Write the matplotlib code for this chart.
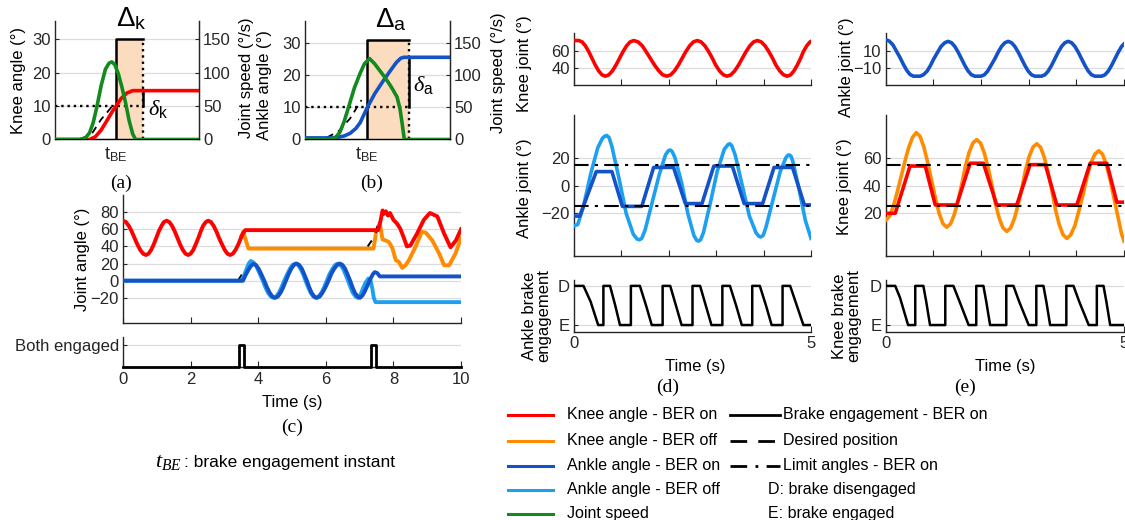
import matplotlib
matplotlib.use('Agg')
import matplotlib.pyplot as plt
import numpy as np

plt.rcParams['font.family'] = ['Liberation Sans', 'DejaVu Sans']
plt.rcParams['mathtext.fontset'] = 'custom'
plt.rcParams['mathtext.rm'] = 'Liberation Sans'
plt.rcParams['mathtext.it'] = 'Liberation Serif:italic'
plt.rcParams['mathtext.bf'] = 'Liberation Sans:bold'

# ---------------- data ----------------
# panel (a): knee brake engagement
a_tBE = 4.24
a_box_end = 6.11
a_box_top = 30
a_limit = 10
a_knee_final = 14.6
a_knee_t = [0, 2.4, 2.8, 3.2, 3.6, 4.0, 4.24, 4.6, 5.0, 5.4, 10]
a_knee_v = [0, 0, 0.8, 2.8, 5.6, 8.5, 10, 12.3, 13.9, 14.6, 14.6]
a_des_t = [1.8, 2.2, 2.6, 2.9, 3.2, 3.6, 3.96]
a_des_v = [0.3, 0.9, 2.0, 4.0, 6.0, 8.0, 9.9]
a_speed_t = [0, 1.7, 2.1, 2.4, 2.65, 2.9, 3.2, 3.5, 3.75, 3.94, 4.15, 4.4, 4.65, 4.9, 5.15, 5.4, 5.6, 10]
a_speed_v = [0, 0, 2, 10, 25, 48, 80, 105, 114, 116, 112, 98, 78, 55, 28, 8, 0, 0]

# panel (b): ankle brake engagement
b_tBE = 4.25
b_box_end = 7.17
b_box_top = 31
b_limit = 10
b_ankle_final = 25.6
b_ankle_t = [0, 1.9, 2.3, 2.7, 3.1, 3.5, 3.8, 4.05, 4.3, 4.8, 5.4, 5.9, 6.3, 6.6, 6.8, 10]
b_ankle_v = [0.5, 0.5, 0.7, 1.1, 1.9, 3.4, 5.2, 7.6, 10, 14.2, 18.3, 21.5, 24, 25.3, 25.6, 25.6]
b_des_t = [1.5, 2.3, 3.1, 3.9]
b_des_v = [0.6, 2.5, 6.5, 12.3]
b_speed_t = [0, 1.7, 2.1, 2.4, 2.7, 3.0, 3.4, 3.8, 4.1, 4.45, 4.8, 5.2, 5.5, 5.86, 6.1, 6.35, 6.55, 6.7, 6.85, 10]
b_speed_v = [0, 0, 3, 11, 28, 50, 80, 103, 118, 126, 118, 106, 97, 85, 76, 66, 48, 25, 0, 0]

# panel (c): both joints, 10 s
c_red_t = [0, 0.085, 0.17, 0.255, 0.34, 0.425, 0.51, 0.595, 0.68,
           0.756, 0.833, 0.909, 0.985, 1.06, 1.14, 1.21, 1.29,
           1.37, 1.45, 1.53, 1.61, 1.69, 1.77, 1.85, 1.93,
           2.0, 2.08, 2.15, 2.23, 2.30, 2.37, 2.45, 2.52,
           2.6, 2.68, 2.76, 2.84, 2.93, 3.01, 3.09, 3.17,
           3.25, 3.33, 3.41, 3.49, 3.56, 3.62, 7.55, 7.62, 7.68, 7.72, 7.78, 7.84,
           7.9, 8.0, 8.1, 8.2, 8.3, 8.4, 8.5, 8.7, 8.9, 9.08, 9.3, 9.5, 9.69, 9.85, 10]
c_red_v = [70, 68.5, 64.1, 57.7, 50, 42.3, 35.9, 31.5, 30,
           31.5, 35.9, 42.3, 50, 57.7, 64.1, 68.5, 70,
           68.5, 64.1, 57.7, 50, 42.3, 35.9, 31.5, 30,
           31.5, 35.9, 42.3, 50, 57.7, 64.1, 68.5, 70,
           68.5, 64.1, 57.7, 50, 42.3, 35.9, 31.5, 30,
           31.5, 35.9, 42.3, 50, 56, 59, 59, 70, 82, 78, 81, 76,
           79, 71, 67, 61, 51, 40, 41, 55, 71, 79, 75, 55, 39, 47, 60]
c_orange_t = [3.5, 3.56, 3.71, 7.41, 7.5, 7.6, 7.68, 7.77, 7.87, 7.97, 8.07, 8.16, 8.26, 8.36,
              8.46, 8.66, 8.84, 8.96, 9.15, 9.35, 9.5, 9.65, 9.84, 10]
c_orange_v = [52, 57, 37.5, 37.5, 59, 66, 48, 47, 45, 38, 24, 22, 15, 18,
              24, 40, 57, 56, 47, 32, 18, 18, 32, 50]
c_dblue_t = [0, 3.55, 3.62, 3.7, 3.78, 3.85,
             3.93, 4.01, 4.09, 4.18, 4.26, 4.34, 4.42, 4.5,
             4.58, 4.66, 4.74, 4.82, 4.9, 4.98, 5.06, 5.14,
             5.21, 5.29, 5.36, 5.44, 5.51, 5.58, 5.66, 5.73,
             5.82, 5.9, 5.99, 6.08, 6.16, 6.25, 6.34, 6.42,
             6.49, 6.57, 6.64, 6.72, 6.79, 6.86, 6.94, 7.01,
             7.09, 7.17, 7.25, 7.33, 7.4, 7.45, 7.52, 7.6, 10]
c_dblue_v = [0, 0, 6, 12, 17, 19.5,
             18.5, 14.1, 7.7, 0, -7.7, -14.1, -18.5, -20,
             -18.5, -14.1, -7.7, 0, 7.7, 14.1, 18.5, 20,
             18.5, 14.1, 7.7, 0, -7.7, -14.1, -18.5, -20,
             -18.5, -14.1, -7.7, 0, 7.7, 14.1, 18.5, 20,
             18.5, 14.1, 7.7, 0, -7.7, -14.1, -18.5, -20,
             -17, -11, -4, 3, 8, 10, 9, 5, 5]
c_lblue_t = [0, 3.5, 3.58, 3.65, 3.72, 3.78,
             3.86, 3.95, 4.03, 4.12, 4.2, 4.28, 4.37, 4.45,
             4.53, 4.61, 4.69, 4.77, 4.86, 4.94, 5.02, 5.1,
             5.18, 5.25, 5.33, 5.4, 5.48, 5.55, 5.63, 5.7,
             5.78, 5.87, 5.95, 6.03, 6.11, 6.2, 6.28, 6.36,
             6.43, 6.51, 6.58, 6.66, 6.73, 6.8, 6.88, 6.95,
             7.03, 7.1, 7.18, 7.26, 7.32, 7.38, 7.42, 7.47, 10]
c_lblue_v = [0, 0, 6, 13, 20, 23,
             21.3, 16.5, 9.4, 1.5, -6.4, -13.5, -18.3, -20,
             -18.5, -14.1, -7.7, 0, 7.7, 14.1, 18.5, 20,
             18.5, 14.1, 7.7, 0, -7.7, -14.1, -18.5, -20,
             -18.5, -14.1, -7.7, 0, 7.7, 14.1, 18.5, 20,
             18.5, 14.1, 7.7, 0, -7.7, -14.1, -18.5, -20,
             -16, -9, -2, 2.5, 1, -10, -20, -25, -25]
c_des_t = [3.40, 3.56, np.nan, 7.24, 7.38, np.nan, 7.48, 7.56, np.nan, 7.08, 7.25]
c_des_v = [0, 10, np.nan, 40, 48, np.nan, 56, 68, np.nan, -18, -8]
c_brake_t = [0, 3.44, 3.44, 3.57, 3.57, 7.35, 7.35, 7.48, 7.48, 10]
c_brake_v = [0, 0, 1, 1, 0, 0, 1, 1, 0, 0]

# panel (d): ankle BER
d_knee_t = [0, 0.1, 0.17, 0.24, 0.31, 0.38, 0.45, 0.52, 0.59, 0.66,
            0.735, 0.81, 0.885, 0.96, 1.035, 1.11, 1.185, 1.26,
            1.35, 1.44, 1.52, 1.61, 1.7, 1.79, 1.87, 1.96,
            2.04, 2.12, 2.2, 2.28, 2.36, 2.44, 2.52, 2.6,
            2.68, 2.76, 2.84, 2.92, 2.99, 3.07, 3.15, 3.23,
            3.31, 3.39, 3.47, 3.55, 3.63, 3.71, 3.79, 3.87,
            3.95, 4.03, 4.11, 4.19, 4.26, 4.34, 4.42, 4.5,
            4.57, 4.64, 4.71, 4.78, 4.84, 4.91, 4.98, 5.0]
d_knee_v = [72, 72, 70.4, 65.8, 59, 51, 43, 36.2, 31.6, 30,
            31.6, 36.2, 43, 51, 59, 65.8, 70.4, 72,
            70.4, 65.8, 59, 51, 43, 36.2, 31.6, 30,
            31.6, 36.2, 43, 51, 59, 65.8, 70.4, 72,
            70.4, 65.8, 59, 51, 43, 36.2, 31.6, 30,
            31.6, 36.2, 43, 51, 59, 65.8, 70.4, 72,
            70.4, 65.8, 59, 51, 43, 36.2, 31.6, 30,
            31.6, 36.2, 43, 51, 59, 65.8, 70.4, 71]
d_off_t = [0, 0.08, 0.2, 0.35, 0.5, 0.6, 0.65, 0.69, 0.74, 0.8, 0.95, 1.1, 1.25, 1.33, 1.38, 1.43,
           1.5, 1.65, 1.8, 1.93, 1.99, 2.03, 2.07, 2.13, 2.27, 2.4, 2.53, 2.59, 2.63, 2.67, 2.73,
           2.88, 3.02, 3.17, 3.25, 3.29, 3.33, 3.4, 3.55, 3.7, 3.84, 3.9, 3.94, 3.99, 4.05, 4.2,
           4.35, 4.47, 4.51, 4.54, 4.58, 4.62, 4.75, 4.88, 5.0]
d_off_v = [-29, -28, -15, 8, 27, 34, 35.5, 36, 34.5, 28, 5, -20, -35, -38.5, -39, -38,
           -32, -12, 8, 22, 25, 25.5, 24.5, 20, 2, -20, -36, -39.5, -40, -39, -34,
           -12, 10, 26, 29.5, 30, 28.5, 22, 0, -22, -34, -36.5, -37, -36, -30, -10,
           10, 20, 21.7, 22, 21, 17, -3, -25, -38]
d_on_t = [0, 0.12, 0.47, 0.8, 1.02, 1.43, 1.68, 2.1, 2.35, 2.7, 2.95, 3.34, 3.59, 3.98, 4.22, 4.61, 4.86, 5.0]
d_on_v = [-22, -22, 10, 10, -15, -15, 13, 13, -13, -13, 14, 14, -13, -13, 13, 13, -14, -14]
d_limits = [15, -15]
d_brake_t = [0, 0.2, 0.35, 0.51, 0.62, 0.62, 0.76, 0.87, 0.97, 1.2, 1.2, 1.39, 1.52, 1.64, 1.87, 1.87,
             2.03, 2.15, 2.27, 2.5, 2.5, 2.66, 2.78, 2.9, 3.13, 3.13, 3.29, 3.42, 3.54, 3.76, 3.76,
             3.92, 4.05, 4.17, 4.4, 4.4, 4.56, 4.7, 4.84, 5.0]
d_brake_v = [1, 1, 0.6, 0, 0, 1, 1, 0.5, 0, 0, 1, 1, 0.5, 0, 0, 1,
             1, 0.5, 0, 0, 1, 1, 0.5, 0, 0, 1, 1, 0.5, 0, 0, 1,
             1, 0.5, 0, 0, 1, 1, 0.5, 0, 0]

# panel (e): knee BER
e_ank_t = [0, 0.07, 0.15, 0.22, 0.3, 0.37, 0.44, 0.51, 0.58, 0.72,
           0.79, 0.87, 0.94, 1.01, 1.09, 1.16, 1.24, 1.31,
           1.38, 1.45, 1.52, 1.59, 1.66, 1.73, 1.8, 1.87, 2.0,
           2.07, 2.14, 2.21, 2.29, 2.36, 2.43, 2.5, 2.57,
           2.64, 2.71, 2.78, 2.85, 2.92, 2.99, 3.06, 3.13, 3.27,
           3.34, 3.41, 3.48, 3.55, 3.62, 3.69, 3.76, 3.83,
           3.9, 3.97, 4.04, 4.11, 4.18, 4.25, 4.32, 4.39, 4.53,
           4.6, 4.67, 4.74, 4.81, 4.88, 4.95, 5.0]
e_ank_v = [23, 21.5, 17, 10, 2, -6, -13, -18, -20, -20,
           -18.4, -14, -7.3, 0.5, 8.3, 15, 19.4, 21,
           19.4, 15, 8.3, 0.5, -7.3, -14, -18.4, -20, -20,
           -18.4, -14, -7.3, 0.5, 8.3, 15, 19.4, 21,
           19.4, 15, 8.3, 0.5, -7.3, -14, -18.4, -20, -20,
           -18.4, -14, -7.3, 0.5, 8.3, 15, 19.4, 21,
           19.4, 15, 8.3, 0.5, -7.3, -14, -18.4, -20, -20,
           -18.4, -14, -7.3, 0.5, 8.3, 15, 18]
e_off_t = [0, 0.08, 0.16, 0.24, 0.32, 0.4, 0.48, 0.56, 0.64,
           0.72, 0.8, 0.88, 0.96, 1.04, 1.12, 1.2, 1.28,
           1.36, 1.44, 1.52, 1.6, 1.67, 1.75, 1.83, 1.91,
           1.99, 2.07, 2.15, 2.23, 2.3, 2.38, 2.46, 2.54,
           2.62, 2.7, 2.78, 2.86, 2.93, 3.01, 3.09, 3.17,
           3.25, 3.33, 3.41, 3.49, 3.56, 3.64, 3.72, 3.8,
           3.88, 3.97, 4.05, 4.14, 4.22, 4.3, 4.39, 4.47,
           4.55, 4.63, 4.71, 4.79, 4.87, 4.95, 5.0]
e_off_v = [15, 18, 25, 35, 46, 57, 67, 74.5, 78,
           75.4, 67.8, 56.6, 44, 31.4, 20.2, 12.6, 10,
           12.4, 19.2, 29.4, 41.5, 53.6, 63.8, 70.6, 73,
           70.5, 63.3, 52.6, 40, 27.4, 16.7, 9.5, 7,
           9.4, 16.2, 26.4, 38.5, 50.6, 60.8, 67.6, 70,
           67.4, 60, 49, 36, 23, 12, 4.6, 2,
           4.4, 11.2, 21.4, 33.5, 45.6, 55.8, 62.6, 65,
           62.4, 55, 44, 31, 18, 5, 0]
e_on_t = [0, 0.2, 0.51, 0.83, 1.04, 1.49, 1.77, 2.05, 2.33, 2.75, 3.03, 3.35, 3.59, 4.01, 4.29, 4.64, 4.85, 5.0]
e_on_v = [20, 20, 54, 54, 26, 26, 56, 56, 26, 26, 55, 55, 26, 26, 56, 56, 28, 28]
e_limits = [55, 25]
e_brake_t = [0, 0.2, 0.3, 0.47, 0.62, 0.62, 0.79, 0.85, 0.93, 1.25, 1.25, 1.42, 1.55, 1.74, 1.9, 1.9,
             2.05, 2.11, 2.19, 2.53, 2.53, 2.68, 2.8, 3.0, 3.16, 3.16, 3.31, 3.37, 3.45, 3.79, 3.79,
             3.94, 4.06, 4.26, 4.43, 4.43, 4.57, 4.63, 4.71, 5.0]
e_brake_v = [1, 1, 0.7, 0, 0, 1, 1, 0.6, 0, 0, 1, 1, 0.6, 0, 0, 1,
             1, 0.6, 0, 0, 1, 1, 0.6, 0, 0, 1, 1, 0.6, 0, 0, 1,
             1, 0.6, 0, 0, 1, 1, 0.6, 0, 0]

legend_col1 = ['Knee angle - BER on', 'Knee angle - BER off', 'Ankle angle - BER on',
               'Ankle angle - BER off', 'Joint speed']
legend_col2 = ['Brake engagement - BER on', 'Desired position', 'Limit angles - BER on']
legend_notes = ['D: brake disengaged', 'E: brake engaged']

# ---------------- style ----------------
RED = '#ff0000'
ORANGE = '#ff8c00'
DBLUE = '#1452c8'
LBLUE = '#1ea0f0'
GREEN = '#138a1e'
SHADE = '#fbdcbf'
GRID = '#dcdcdc'
AXC = '#262626'
FS = 12
SERIF = 'Liberation Serif'

W, H = 1125, 520
fig = plt.figure(figsize=(W / 100, H / 100), dpi=100)


def add_ax(l, t, r, b):
    return fig.add_axes([l / W, 1 - b / H, (r - l) / W, (b - t) / H])


def ftext(x, y, s, **kw):
    kw.setdefault('fontsize', FS)
    kw.setdefault('color', 'k')
    fig.text(x / W, 1 - y / H, s, **kw)


def style(ax):
    ax.spines['top'].set_visible(False)
    ax.spines['right'].set_visible(False)
    for s in ax.spines.values():
        s.set_color(AXC)
        s.set_linewidth(1.0)
    ax.tick_params(direction='in', length=4, width=0.8, colors=AXC, labelsize=FS, pad=3)
    ax.tick_params(axis='y', length=3)
    ax.grid(axis='y', color=GRID, lw=0.9)
    ax.set_axisbelow(True)
    ax.patch.set_alpha(0)


def panel_ab(l, r, ylim_top, tBE, box_end, box_top, limit, final, ang_t, ang_v, ang_c,
             des_t, des_v, sp_t, sp_v):
    ax = add_ax(l, 20.7, r, 139.5)
    style(ax)
    ax.spines['right'].set_visible(True)
    ax.set_xlim(0, 10)
    ax.set_ylim(0, ylim_top)
    ax.set_yticks([0, 10, 20, 30])
    ax.set_xticks([tBE])
    ax.set_xticklabels([r'$\mathrm{t}_{\mathrm{BE}}$'], fontsize=13)
    ax.tick_params(axis='x', pad=4)
    ax.fill_between([tBE, box_end], 0, box_top, color=SHADE, lw=0, zorder=1)
    ax.plot([0, box_end], [limit, limit], ':', color='k', lw=1.7, zorder=2)
    ax.plot([tBE, tBE, box_end], [0, box_top, box_top], '-', color='k', lw=1.8, zorder=2)
    ax.plot([box_end, box_end], [0, box_top], ':', color='k', lw=1.7, zorder=2)
    ax.plot([box_end, box_end], [limit, final], '-', color='k', lw=1.8, zorder=2)
    ax.plot(des_t, des_v, '--', color='k', lw=1.3, zorder=3, dashes=(4, 3))
    ax.plot(ang_t, ang_v, color=ang_c, lw=2.6, zorder=4)
    ax2 = ax.twinx()
    ax2.set_ylim(0, ylim_top * 5)
    ax2.set_yticks([0, 50, 100, 150])
    for s in ['top', 'left']:
        ax2.spines[s].set_visible(False)
    ax2.spines['right'].set_color(AXC)
    ax2.tick_params(direction='in', length=3, width=0.8, colors=AXC, labelsize=FS, pad=3)
    ax2.plot(sp_t, sp_v, color=GREEN, lw=2.6, zorder=4)
    return ax


panel_ab(55, 199, 35.5, a_tBE, a_box_end, a_box_top, a_limit, a_knee_final,
         a_knee_t, a_knee_v, RED, a_des_t, a_des_v, a_speed_t, a_speed_v)
panel_ab(305, 450, 37, b_tBE, b_box_end, b_box_top, b_limit, b_ankle_final,
         b_ankle_t, b_ankle_v, DBLUE, b_des_t, b_des_v, b_speed_t, b_speed_v)

ftext(131.5, 19, r'$\Delta_{\mathrm{k}}$', fontsize=20, ha='center', va='center')
ftext(391, 20, r'$\Delta_{\mathrm{a}}$', fontsize=20, ha='center', va='center')
ftext(158, 109, r'$\delta_{\mathrm{k}}$', fontsize=16, ha='center', va='center')
ftext(423, 85, r'$\delta_{\mathrm{a}}$', fontsize=16, ha='center', va='center')
ftext(19, 80, 'Knee angle (°)', rotation=90, ha='center', va='center')
ftext(247, 78, 'Joint speed (°/s)', rotation=90, ha='center', va='center')
ftext(264, 85, 'Ankle angle (°)', rotation=90, ha='center', va='center')
ftext(498, 73, 'Joint speed (°/s)', rotation=90, ha='center', va='center')
ftext(121, 183, '(a)', family=SERIF, fontsize=14, ha='center', va='center')
ftext(372, 183, '(b)', family=SERIF, fontsize=14, ha='center', va='center')

# ---------------- panel (c) ----------------
axc = add_ax(123, 195, 461, 322.7)
style(axc)
axc.set_xlim(0, 10)
axc.set_ylim(-49, 100)
axc.set_yticks([-20, 0, 20, 40, 60, 80])
axc.set_xticks([0, 2, 4, 6, 8, 10])
axc.set_xticklabels([])
axc.plot(c_orange_t, c_orange_v, color=ORANGE, lw=2.8, zorder=3)
axc.plot(c_red_t, c_red_v, color=RED, lw=2.8, zorder=4)
axc.plot(c_des_t, c_des_v, '--', color='k', lw=1.4, zorder=3)
axc.plot(c_lblue_t, c_lblue_v, color=LBLUE, lw=2.8, zorder=3)
axc.plot(c_dblue_t, c_dblue_v, color=DBLUE, lw=2.8, zorder=4)

axcb = add_ax(123, 336.7, 461, 366.7)
style(axcb)
axcb.set_xlim(0, 10)
axcb.set_ylim(0, 1.4)
axcb.set_yticks([1])
axcb.set_yticklabels(['Both engaged'])
axcb.set_xticks([0, 2, 4, 6, 8, 10])
axcb.tick_params(axis='x', pad=4)
axcb.plot(c_brake_t, c_brake_v, color='k', lw=2.0, clip_on=False, zorder=4)
ftext(82, 259, 'Joint angle (°)', rotation=90, ha='center', va='center')
ftext(292, 403, 'Time (s)', ha='center', va='center')
ftext(292, 427, '(c)', family=SERIF, fontsize=14, ha='center', va='center')
ftext(168, 462, r'$t_{BE}$', fontsize=16, ha='center', va='center')
ftext(184, 463, ': brake engagement instant', fontsize=12.5, ha='left', va='center')


# ---------------- panels (d), (e) ----------------
def joint_panels(l, r, top_t, top_v, top_c, top_ylim, top_ticks,
                 off_t, off_v, off_c, on_t, on_v, on_c, mid_ylim, mid_ticks, limits,
                 br_t, br_v):
    a1 = add_ax(l, 33.3, r, 85)
    style(a1)
    a1.set_xlim(0, 5)
    a1.set_ylim(*top_ylim)
    a1.set_yticks(top_ticks)
    a1.set_xticks([0, 1, 2, 3, 4, 5])
    a1.set_xticklabels([])
    a1.plot(top_t, top_v, color=top_c, lw=2.6, zorder=4)

    a2 = add_ax(l, 115, r, 256)
    style(a2)
    a2.set_xlim(0, 5)
    a2.set_ylim(*mid_ylim)
    a2.set_yticks(mid_ticks)
    a2.set_xticks([0, 1, 2, 3, 4, 5])
    a2.set_xticklabels([])
    a2.plot(off_t, off_v, color=off_c, lw=2.6, zorder=3)
    a2.plot(on_t, on_v, color=on_c, lw=2.6, zorder=4)
    for lim in limits:
        a2.axhline(lim, color='k', lw=1.5, ls=(0, (7, 3, 1.5, 3)), zorder=5)

    a3 = add_ax(l, 280, r, 331.7)
    style(a3)
    a3.set_xlim(0, 5)
    a3.set_ylim(-0.17, 1.15)
    a3.set_yticks([0, 1])
    a3.set_yticklabels(['E', 'D'])
    a3.set_xticks([0, 5])
    a3.plot(br_t, br_v, color='k', lw=1.8, zorder=4)


joint_panels(574, 811, d_knee_t, d_knee_v, RED, (19.6, 80.5), [40, 60],
             d_off_t, d_off_v, LBLUE, d_on_t, d_on_v, DBLUE, (-50.7, 50.7), [-20, 0, 20],
             d_limits, d_brake_t, d_brake_v)
joint_panels(885.7, 1124, e_ank_t, e_ank_v, DBLUE, (-30.4, 30.5), [-10, 10],
             e_off_t, e_off_v, ORANGE, e_on_t, e_on_v, RED, (-10.7, 90.7), [20, 40, 60],
             e_limits, e_brake_t, e_brake_v)

ftext(524, 64, 'Knee joint (°)', rotation=90, ha='center', va='center')
ftext(524, 188, 'Ankle joint (°)', rotation=90, ha='center', va='center')
ftext(537, 316, 'Ankle brake\nengagement', rotation=90, ha='center', va='center', linespacing=0.95)
ftext(846, 67, 'Ankle joint (°)', rotation=90, ha='center', va='center')
ftext(845, 187, 'Knee joint (°)', rotation=90, ha='center', va='center')
ftext(847, 316, 'Knee brake\nengagement', rotation=90, ha='center', va='center', linespacing=0.95)
ftext(695, 367, 'Time (s)', ha='center', va='center')
ftext(1005, 367, 'Time (s)', ha='center', va='center')
ftext(668, 387, '(d)', family=SERIF, fontsize=14, ha='center', va='center')
ftext(965, 387, '(e)', family=SERIF, fontsize=14, ha='center', va='center')

# ---------------- legend ----------------
leg_rows = [415, 440.5, 465.5, 489.5, 513.5]
col1_colors = [RED, ORANGE, DBLUE, LBLUE, GREEN]
for y, lab, c in zip(leg_rows, legend_col1, col1_colors):
    fig.add_artist(plt.Line2D([508 / W, 553 / W], [1 - y / H, 1 - y / H], color=c, lw=2.2))
    ftext(566.7, y, lab, fontsize=11.5, ha='left', va='center')
col2_styles = ['-', (0, (6, 4)), (0, (6, 3, 1, 3))]
for y, lab, ls in zip(leg_rows[:3], legend_col2, col2_styles):
    fig.add_artist(plt.Line2D([730 / W, 780 / W], [1 - y / H, 1 - y / H], color='k', lw=2.0, ls=ls))
    ftext(783, y, lab, fontsize=11.5, ha='left', va='center')
for y, lab in zip(leg_rows[3:], legend_notes):
    ftext(768, y, lab, fontsize=11.5, ha='left', va='center')

fig.savefig('out.png', dpi=100)
